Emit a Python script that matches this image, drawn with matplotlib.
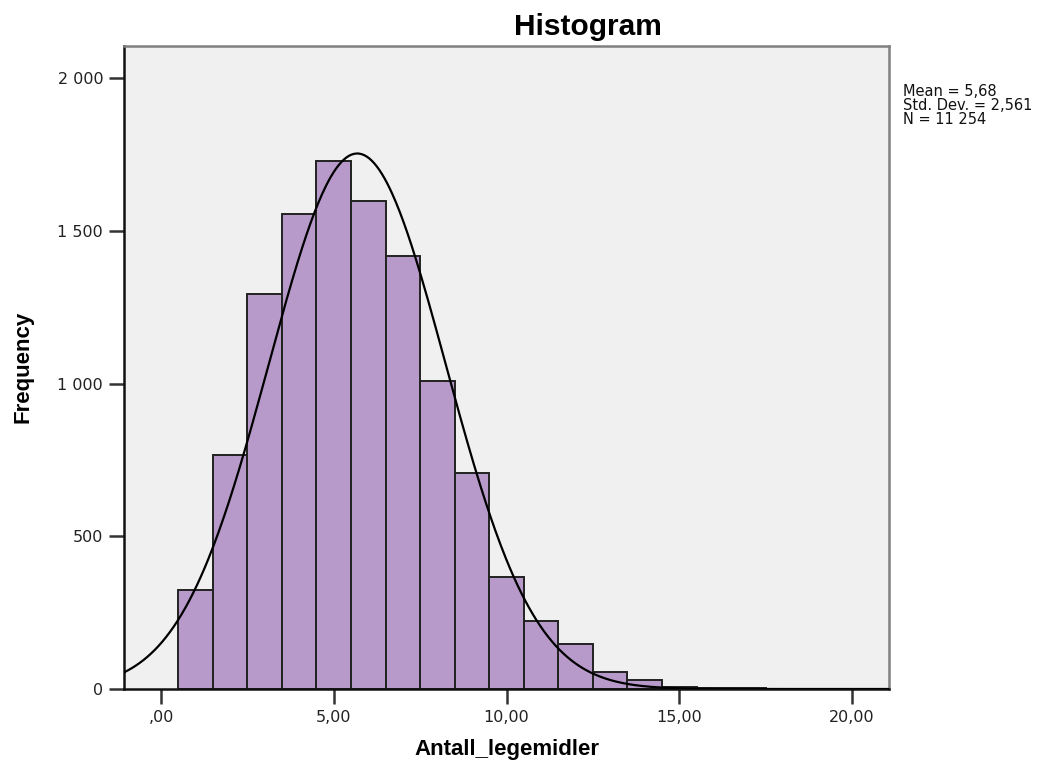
import numpy as np
import matplotlib
matplotlib.use("Agg")
import matplotlib.pyplot as plt

# ---- data ----
bin_centers = [1, 2, 3, 4, 5, 6, 7, 8, 9, 10, 11, 12, 13, 14, 15, 16, 17, 18]
frequencies = [324, 766, 1293, 1555, 1728, 1597, 1417, 1008, 707, 367, 222, 147, 56, 29, 8, 4, 2, 1]
bin_width = 1.0

mean_val = 5.68
std_val = 2.561
n_val = 11254

x_ticks = [0, 5, 10, 15, 20]
x_tick_labels = [",00", "5,00", "10,00", "15,00", "20,00"]
y_ticks = [0, 500, 1000, 1500, 2000]
y_tick_labels = ["0", "500", "1 000", "1 500", "2 000"]
stats_lines = ["Mean = 5,68", "Std. Dev. = 2,561", "N = 11 254"]

plt.rcParams['font.family'] = ['Liberation Sans', 'DejaVu Sans']

W, H = 1063, 763
fig = plt.figure(figsize=(W / 100, H / 100), dpi=100)
fig.patch.set_facecolor('white')
ax = fig.add_axes([124 / W, 1 - 689 / H, (889 - 124) / W, (689 - 46) / H])
ax.set_facecolor('#F0F0F0')

ax.bar(bin_centers, frequencies, width=bin_width, color='#B89ACA',
       edgecolor='#222222', linewidth=1.4, zorder=2)

xlim = (-1.07, 21.07)
xs = np.linspace(xlim[0], xlim[1], 600)
pdf = np.exp(-0.5 * ((xs - mean_val) / std_val) ** 2) / (std_val * np.sqrt(2 * np.pi))
ax.plot(xs, n_val * bin_width * pdf, color='black', linewidth=1.6, zorder=3)

ax.set_xlim(*xlim)
ax.set_ylim(0, 2105)
ax.set_xticks(x_ticks)
ax.set_xticklabels(x_tick_labels)
ax.set_yticks(y_ticks)
ax.set_yticklabels(y_tick_labels)
ax.tick_params(axis='both', direction='out', length=11, width=1.8,
               color='#333333', labelsize=11.5, labelcolor='#222222', pad=4)
for lbl in ax.get_xticklabels() + ax.get_yticklabels():
    lbl.set_family('DejaVu Sans')

for side in ['left', 'bottom']:
    ax.spines[side].set_color('#111111')
    ax.spines[side].set_linewidth(1.8)
for side in ['top', 'right']:
    ax.spines[side].set_color('#808080')
    ax.spines[side].set_linewidth(1.8)

ax.set_xlabel("Antall_legemidler", fontsize=16, fontweight='bold', labelpad=10)
fig.text(23 / W, 1 - 367 / H, "Frequency", fontsize=16, fontweight='bold',
         rotation=90, ha='center', va='center')

fig.text(588 / W, 1 - 27 / H, "Histogram", fontsize=21.5, fontweight='bold',
         ha='center', va='center')

baselines = [96, 109.8, 123.6]
for line, yb in zip(stats_lines, baselines):
    fig.text(903 / W, 1 - yb / H, line, fontsize=10.5, ha='left',
             va='baseline', color='#111111', family='DejaVu Sans')

fig.savefig("out.png", dpi=100)
